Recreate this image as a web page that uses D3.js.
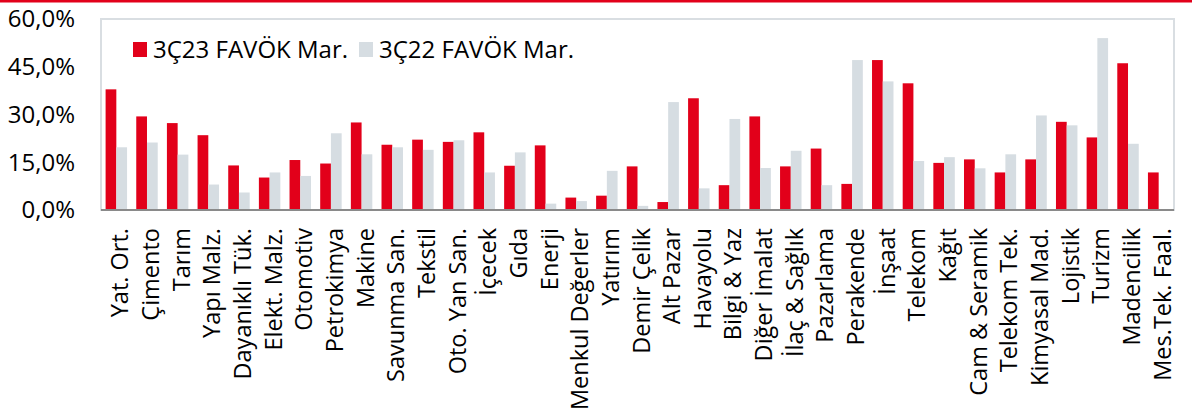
<!DOCTYPE html>
<meta charset="utf-8">
<body style="margin:0;background:#fff">
<script src="https://d3js.org/d3.v7.min.js"></script>
<div id="my_dataviz"></div>
<script>
// sectors (x axis categories)
var sectors = ["Yat. Ort.", "Çimento", "Tarım", "Yapı Malz.", "Dayanıklı Tük.", "Elekt. Malz.",
  "Otomotiv", "Petrokimya", "Makine", "Savunma San.", "Tekstil", "Oto. Yan San.", "İçecek",
  "Gıda", "Enerji", "Menkul Değerler", "Yatırım", "Demir Çelik", "Alt Pazar", "Havayolu",
  "Bilgi & Yaz", "Diğer İmalat", "İlaç & Sağlık", "Pazarlama", "Perakende", "İnşaat",
  "Telekom", "Kağıt", "Cam & Seramik", "Telekom Tek.", "Kimyasal Mad.", "Lojistik",
  "Turizm", "Madencilik", "Mes.Tek. Faal."];

// EBITDA margins, %
var margin3Q23 = [37.9, 29.4, 27.3, 23.5, 14.0, 10.2, 15.7, 14.6, 27.5, 20.5, 22.1, 21.4, 24.4,
  13.9, 20.3, 3.9, 4.5, 13.7, 2.5, 35.1, 7.8, 29.4, 13.7, 19.3, 8.2, 47.1,
  39.8, 14.8, 15.9, 11.8, 15.9, 27.7, 22.8, 46.1, 11.8];
var margin3Q22 = [19.7, 21.2, 17.4, 8.0, 5.5, 11.8, 10.7, 24.1, 17.5, 19.7, 18.9, 21.9, 11.8,
  18.1, 2.0, 2.8, 12.3, 1.3, 33.9, 6.8, 28.6, 13.2, 18.6, 7.8, 47.1, 40.4,
  15.4, 16.6, 13.1, 17.5, 29.7, 26.6, 54.0, 20.8, 0];

var seriesNames = ["3Ç23 FAVÖK Mar.", "3Ç22 FAVÖK Mar."];
var yTicks = [0, 15, 30, 45, 60];

var W = 1192, H = 410;
var plotL = 101, plotR = 1174, plotT = 19, plotB = 210;
var red = "#e2001a", grey = "#d6dde2";
var font = "'Open Sans', sans-serif";

var svg = d3.select("#my_dataviz").append("svg")
  .attr("width", W).attr("height", H)
  .style("font-family", font);

// red rule at the very top
svg.append("rect").attr("x", 0).attr("y", 0).attr("width", W).attr("height", 2.5).attr("fill", red);

var x = d3.scaleBand().domain(sectors).range([plotL, plotR]).paddingInner(0.3).paddingOuter(0.15);
var x1 = d3.scaleBand().domain([0, 1]).range([0, x.bandwidth()]);
var y = d3.scaleLinear().domain([0, 60]).range([plotB, plotT]);

// plot frame
svg.append("rect")
  .attr("x", plotL).attr("y", plotT).attr("width", plotR - plotL).attr("height", plotB - plotT)
  .attr("fill", "none").attr("stroke", "#d9dee2").attr("stroke-width", 2);

var data = sectors.map(function(s, i) { return {s: s, v: [margin3Q23[i], margin3Q22[i]]}; });

var groups = svg.selectAll(".grp").data(data).enter().append("g")
  .attr("transform", function(d) { return "translate(" + x(d.s) + ",0)"; });
groups.selectAll("rect").data(function(d) { return d.v; }).enter().append("rect")
  .attr("x", function(d, j) { return x1(j); })
  .attr("width", x1.bandwidth())
  .attr("y", function(d) { return y(d); })
  .attr("height", function(d) { return y(0) - y(d); })
  .attr("fill", function(d, j) { return j == 0 ? red : grey; });

// baseline
svg.append("line").attr("x1", plotL).attr("x2", plotR).attr("y1", plotB).attr("y2", plotB)
  .attr("stroke", "#8a8a8a").attr("stroke-width", 2);

// y axis labels
svg.selectAll(".ylab").data(yTicks).enter().append("text")
  .attr("x", 75).attr("y", function(d) { return y(d); })
  .attr("dy", "0.35em").attr("text-anchor", "end")
  .style("font-size", "24px").attr("fill", "#000")
  .text(function(d) { return d3.format(".1f")(d).replace(".", ",") + "%"; });

// x axis labels, rotated
var xc = x.step();
svg.selectAll(".xlab").data(sectors).enter().append("text")
  .attr("transform", function(d) {
    var cx = x(d) + x.bandwidth() / 2;
    return "translate(" + (cx + 12) + ",228) rotate(-90)";
  })
  .attr("text-anchor", "end")
  .style("font-size", "23.5px").attr("fill", "#000")
  .text(function(d) { return d; });

// legend
var leg = [{n: seriesNames[0], c: red, x: 133}, {n: seriesNames[1], c: grey, x: 359}];
leg.forEach(function(l) {
  svg.append("rect").attr("x", l.x).attr("y", 42).attr("width", 14).attr("height", 15).attr("fill", l.c);
  svg.append("text").attr("x", l.x + 20).attr("y", 50).attr("dy", "0.35em")
    .style("font-size", "24px").attr("fill", "#000").text(l.n);
});
</script>
</body>
